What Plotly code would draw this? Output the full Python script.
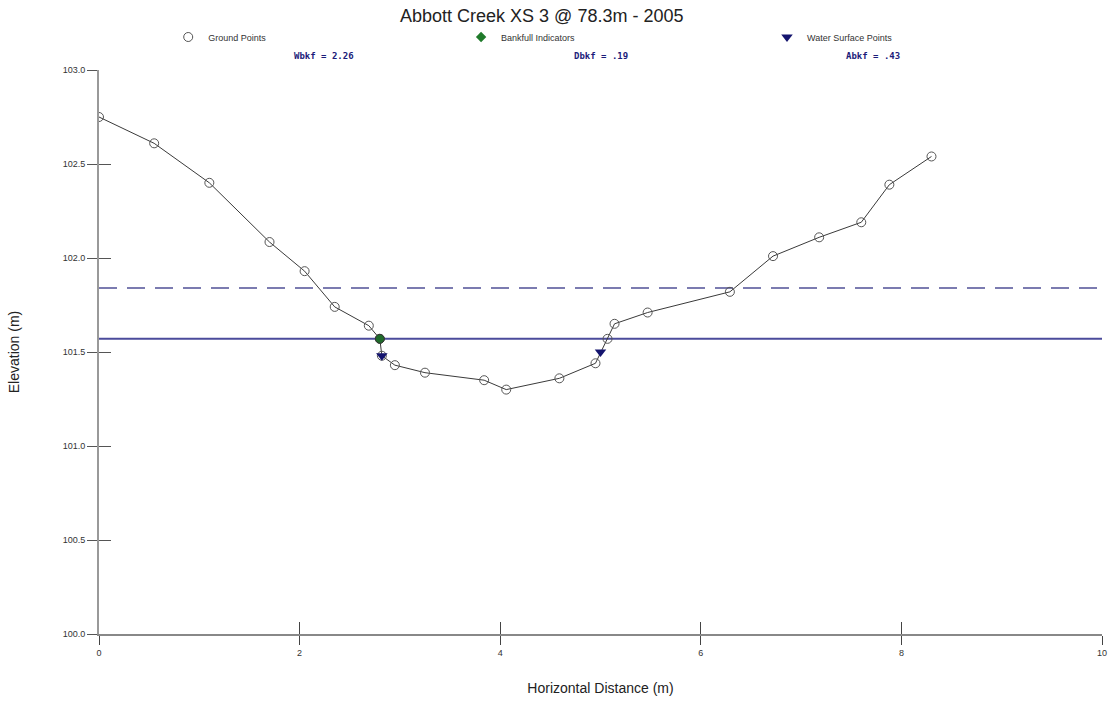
import plotly.graph_objects as go

# Surveyed cross-section: station (m) and elevation (m)
station = [0.00, 0.55, 1.10, 1.70, 2.05, 2.35, 2.69, 2.80, 2.82, 2.95, 3.25, 3.84,
           4.06, 4.59, 4.95, 5.07, 5.14, 5.47, 6.29, 6.72, 7.18, 7.60, 7.88, 8.30]
elevation = [102.75, 102.61, 102.40, 102.085, 101.93, 101.74, 101.64, 101.57, 101.48,
             101.43, 101.39, 101.35, 101.30, 101.36, 101.44, 101.57, 101.65, 101.71,
             101.82, 102.01, 102.11, 102.19, 102.39, 102.54]

bankfull_x = [2.80]
bankfull_y = [101.57]

water_x = [2.82, 5.00]
water_y = [101.48, 101.50]

bankfull_elev = 101.57
flood_elev = 101.84

summary = ["Wbkf = 2.26", "Dbkf = .19", "Abkf = .43"]
summary_pos = [0.224, 0.5, 0.772]

x_range = [0, 10]
y_range = [100.0, 103.0]
y_ticks = [100.0, 100.5, 101.0, 101.5, 102.0, 102.5, 103.0]
x_ticks = [0, 2, 4, 6, 8, 10]

fig = go.Figure()

# reference elevations across the full section
fig.add_trace(go.Scatter(x=x_range, y=[flood_elev, flood_elev], mode="lines",
                         line=dict(color="#7b7bb0", width=2, dash="18px,10px"),
                         showlegend=False, hoverinfo="skip"))
fig.add_trace(go.Scatter(x=x_range, y=[bankfull_elev, bankfull_elev], mode="lines",
                         line=dict(color="#4b4b9b", width=2),
                         showlegend=False, hoverinfo="skip"))

# ground profile
fig.add_trace(go.Scatter(x=station, y=elevation, mode="lines",
                         line=dict(color="#3a3a3a", width=1),
                         showlegend=False, hoverinfo="skip"))
fig.add_trace(go.Scatter(x=station, y=elevation, mode="markers", name="Ground Points",
                         legend="legend",
                         marker=dict(symbol="circle-open", size=9, color="#555555",
                                     line=dict(width=1))))

fig.add_trace(go.Scatter(x=bankfull_x, y=bankfull_y, mode="markers",
                         marker=dict(symbol="circle", size=9, color="#1f6b2a",
                                     line=dict(color="#333333", width=1)),
                         showlegend=False))
fig.add_trace(go.Scatter(x=[None], y=[None], mode="markers", name="Bankfull Indicators",
                         legend="legend2",
                         marker=dict(symbol="diamond", size=8, color="#1f7a2a")))

fig.add_trace(go.Scatter(x=water_x, y=water_y, mode="markers", name="Water Surface Points",
                         legend="legend3",
                         marker=dict(symbol="triangle-down", size=10, color="#14146e",
                                     line=dict(color="#14146e", width=0))))

# overlay axes used only to draw inward tick marks so ticks cross the axis lines
fig.add_trace(go.Scatter(x=[None], y=[None], xaxis="x2", yaxis="y2", showlegend=False))

for txt, xp in zip(summary, summary_pos):
    fig.add_annotation(text="<b>" + txt + "</b>", x=xp, y=1.025, xref="paper", yref="paper",
                       showarrow=False, xanchor="center", yanchor="middle",
                       font=dict(family="DejaVu Sans Mono", size=9, color="#1c1c7a"))

axis_font = dict(family="Liberation Sans, Arial", size=9, color="#333333")
legend_font = dict(family="Liberation Sans, Arial", size=9, color="#333333")


def legend_box(xp):
    return dict(x=xp, xanchor="left", y=1.0585, yanchor="middle", orientation="h",
                itemwidth=30, font=legend_font, bgcolor="rgba(0,0,0,0)",
                tracegroupgap=0)


fig.update_layout(
    width=1117, height=705,
    margin=dict(l=99, r=10, t=70, b=71),
    paper_bgcolor="white", plot_bgcolor="white",
    title=dict(text="Abbott Creek XS 3 @ 78.3m - 2005", x=0.485, xanchor="center",
               y=0.978, yanchor="middle",
               font=dict(family="Liberation Sans, Arial", size=18, color="#222222")),
    legend=legend_box(0.069),
    legend2=legend_box(0.361),
    legend3=legend_box(0.666),
    xaxis=dict(range=x_range, tickvals=x_ticks, ticks="outside", ticklen=9,
               tickcolor="#444444", tickwidth=1, showgrid=False, zeroline=False,
               showline=True, linecolor="#888888", linewidth=2, tickfont=axis_font,
               title=dict(text="Horizontal Distance (m)", standoff=26,
                          font=dict(family="Liberation Sans, Arial", size=14, color="#222222"))),
    yaxis=dict(range=y_range, tickvals=y_ticks, tickformat=".1f", ticks="outside", ticklen=10,
               tickcolor="#555555", tickwidth=1, showgrid=False, zeroline=False,
               showline=True, linecolor="#999999", linewidth=2, tickfont=axis_font,
               title=dict(text="Elevation (m)", standoff=40,
                          font=dict(family="Liberation Sans, Arial", size=14, color="#222222"))),
    xaxis2=dict(range=x_range, tickvals=x_ticks, overlaying="x", anchor="y2", side="bottom",
                ticks="inside", ticklen=12, tickcolor="#444444", showticklabels=False,
                showgrid=False, zeroline=False, showline=False),
    yaxis2=dict(range=y_range, tickvals=y_ticks, overlaying="y", anchor="x2", side="left",
                ticks="inside", ticklen=12, tickcolor="#555555", showticklabels=False,
                showgrid=False, zeroline=False, showline=False),
    showlegend=True,
)

fig.write_html("out.html")
